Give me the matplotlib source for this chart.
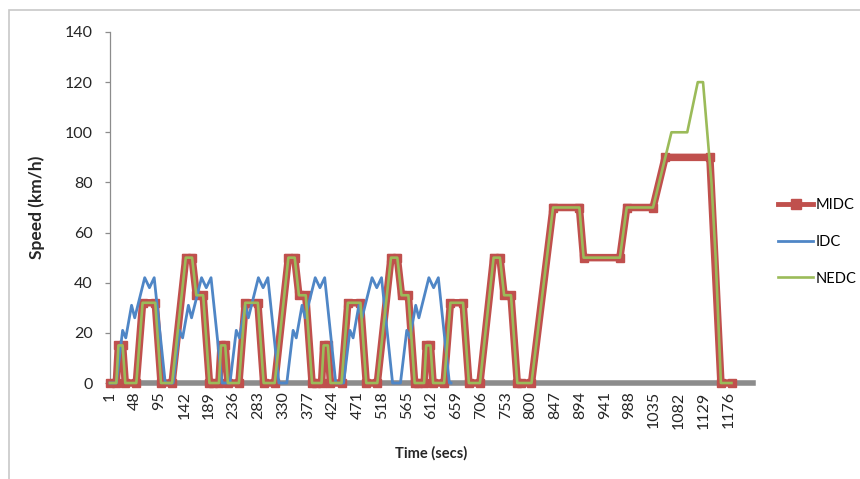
import matplotlib
matplotlib.use("Agg")  # no display
import matplotlib.pyplot as plt
from matplotlib.patches import Rectangle

plt.rcParams["font.family"] = ["Lato", "DejaVu Sans"]

# urban part: 4 x ECE-15, same in MIDC and NEDC  (time index, km/h)
urban_time = [1, 13, 17, 25, 30, 51, 63, 87, 98, 119, 145, 157, 165, 178, 190,
              197, 208, 212, 220, 225, 246, 258, 282, 293, 314, 340, 352, 360, 373, 385,
              392, 403, 407, 415, 420, 441, 453, 477, 488, 509, 535, 547, 555, 568, 580,
              587, 598, 602, 610, 615, 636, 648, 672, 683, 704, 730, 742, 750, 763, 775]
urban_speed = [0, 0, 15, 15, 0, 0, 32, 32, 0, 0, 50, 50, 35, 35, 0] * 4

# extra-urban part
nedc_eu_time = [782, 802, 843, 893, 901, 970, 983, 1033, 1068, 1098, 1118, 1128,
                1144, 1152, 1162, 1182]
nedc_eu_speed = [0, 0, 70, 70, 50, 50, 70, 70, 100, 100, 120, 120, 80, 50, 0, 0]

midc_eu_time = [782, 802, 843, 893, 901, 970, 983, 1033, 1056, 1141, 1162, 1184]
midc_eu_speed = [0, 0, 70, 70, 50, 50, 70, 70, 90, 90, 0, 0]

# Indian driving cycle, 6 repeats
idc_time = [1, 13, 25, 31, 42, 48, 67, 76, 85, 106,
            109, 121, 133, 139, 150, 156, 175, 184, 193, 214,
            217, 229, 241, 247, 258, 264, 283, 292, 301, 322,
            325, 337, 349, 355, 366, 372, 391, 400, 409, 430,
            433, 445, 457, 463, 474, 480, 499, 508, 517, 538,
            541, 553, 565, 571, 582, 588, 607, 616, 625, 646, 649]
idc_speed = [0, 0, 21, 18, 31, 26, 42, 38, 42, 0] * 6 + [0]

x_ticks = [1, 48, 95, 142, 189, 236, 283, 330, 377, 424, 471, 518, 565, 612,
           659, 706, 753, 800, 847, 894, 941, 988, 1035, 1082, 1129, 1176]
y_ticks = [0, 20, 40, 60, 80, 100, 120, 140]

midc_time = urban_time + midc_eu_time
midc_speed = urban_speed + midc_eu_speed
nedc_time = urban_time + nedc_eu_time
nedc_speed = urban_speed + nedc_eu_speed

fig = plt.figure(figsize=(8.6, 4.79), dpi=100)
ax = fig.add_axes([0.1279, 0.2004, 0.7477, 0.7328])

# chart area border (only left/top visible in the screenshot)
fig.add_artist(Rectangle((9 / 860, -0.5), 2.0, 1.5 - 10 / 479,
                         transform=fig.transFigure, fill=False,
                         edgecolor="#c8c8c8", lw=1.2))

ax.plot(midc_time, midc_speed, color="#c0504d", lw=5.4, marker="s", ms=5.4,
        solid_joinstyle="miter", label="MIDC", zorder=3, clip_on=False)
ax.plot(idc_time, idc_speed, color="#4f86c6", lw=2.0, label="IDC",
        zorder=4, clip_on=False)
ax.plot(nedc_time, nedc_speed, color="#9bbb59", lw=1.9, label="NEDC",
        zorder=5, clip_on=False)

ax.set_xlim(1, 1223)
ax.set_ylim(0, 140)
ax.set_xticks(x_ticks)
ax.set_xticklabels([str(t) for t in x_ticks], rotation=90)
ax.set_yticks(y_ticks)

for side in ["top", "right"]:
    ax.spines[side].set_visible(False)
ax.spines["left"].set_color("#8c8c8c")
ax.spines["left"].set_linewidth(0.9)
ax.spines["bottom"].set_color("#8c8c8c")
ax.spines["bottom"].set_linewidth(4.0)
ax.spines["bottom"].set_zorder(2)

ax.tick_params(axis="y", direction="out", length=3.6, width=0.9,
               color="#8c8c8c", pad=9, labelsize=11.5, labelcolor="#262626")
ax.tick_params(axis="x", length=0, pad=6, labelsize=11.5, labelcolor="#262626")

ax.set_ylabel("Speed (km/h)", fontsize=12.5, fontweight="bold", color="#262626")
ax.yaxis.set_label_coords(-0.101, 0.5)
ax.set_xlabel("Time (secs)", fontsize=10.5, fontweight="bold", color="#262626",
              va="center")
ax.xaxis.set_label_coords(0.5, -0.199)

leg = ax.legend(loc="center left", bbox_to_anchor=(778 / 860, 1 - 242 / 479),
                bbox_transform=fig.transFigure, frameon=False, fontsize=10.5,
                handlelength=2.4, handletextpad=0.2, labelspacing=1.55,
                borderpad=0, borderaxespad=0)
leg.legend_handles[0].set_linewidth(3.5)
leg.legend_handles[0].set_markersize(7)

fig.savefig("out.png", dpi=100)
